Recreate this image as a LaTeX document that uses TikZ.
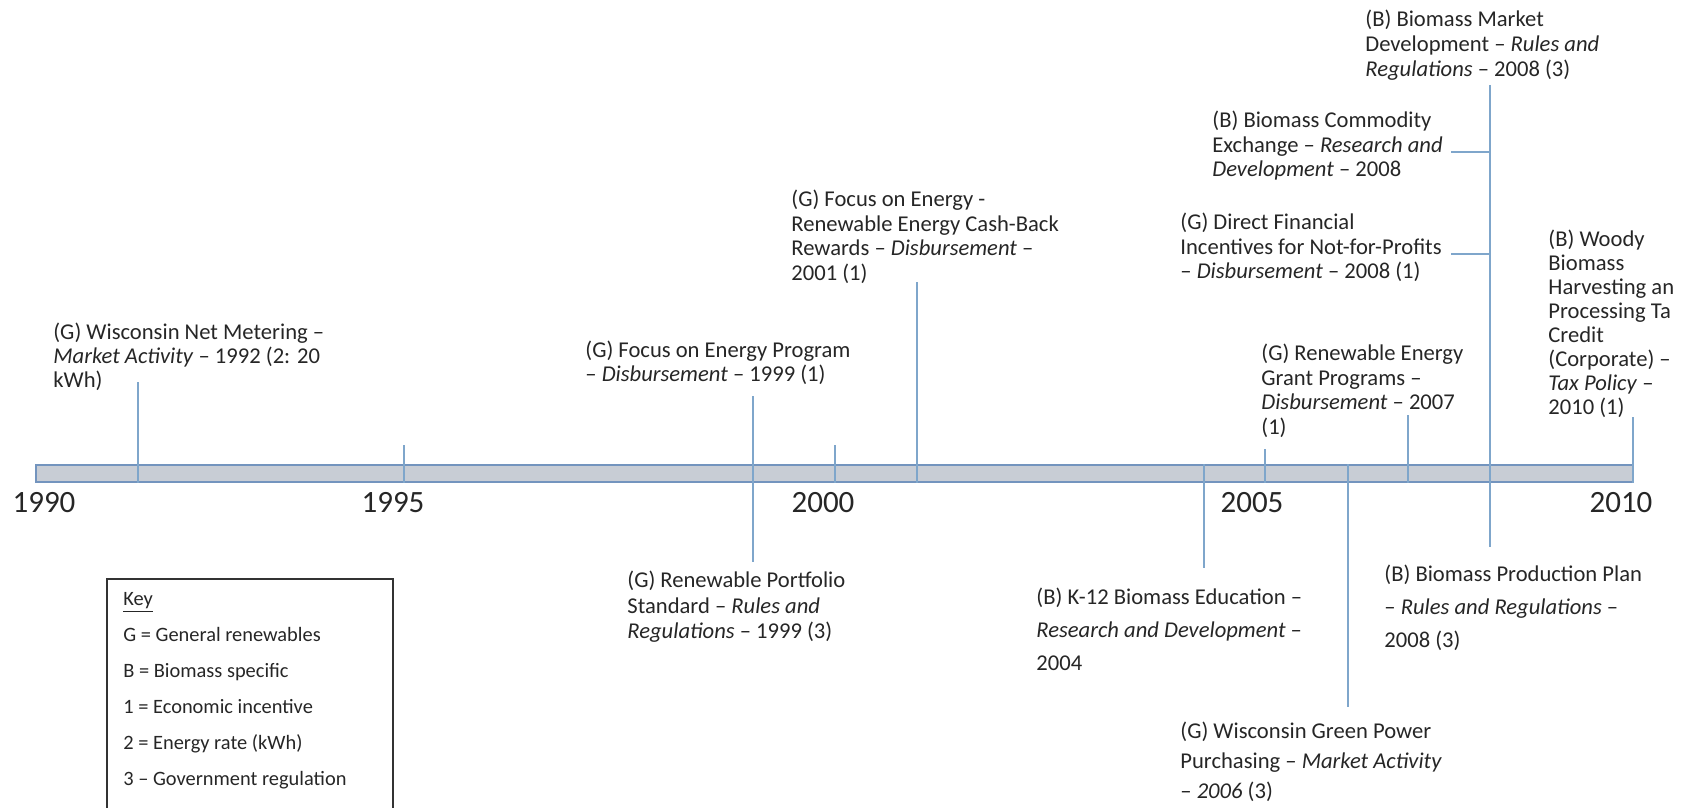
\documentclass[tikz,border=0pt]{standalone}
\usepackage{fontspec}
\setmainfont{Carlito}
\definecolor{tickc}{HTML}{7FA6CB}
\definecolor{barfill}{HTML}{C8CDD5}
\definecolor{barline}{HTML}{7394BE}
\definecolor{txt}{HTML}{262626}
\definecolor{keyline}{HTML}{333333}
\begin{document}
\begin{tikzpicture}[x=0.5pt,y=-0.5pt,
  ann/.style={anchor=north west, inner sep=0pt, align=left, text=txt, font=\fontsize{11.3}{#1}\selectfont},
  ann/.default=12.2,
  yr/.style={inner sep=0pt, text=txt, font=\fontsize{15.5}{18}\selectfont},
  tickline/.style={draw=tickc, line width=1pt},
  barbox/.style={draw=barline, fill=barfill, line width=0.75pt, inner sep=0pt, minimum width=798.5pt, minimum height=8.5pt},
  keyframe/.style={draw=keyline, line width=0.8pt, inner sep=0pt, minimum width=143pt, minimum height=140pt, anchor=north west},
  keytext/.style={anchor=north west, inner sep=0pt, align=left, text=txt, font=\fontsize{10.2}{18}\selectfont}
]
\useasboundingbox (0,0) rectangle (1686,808);
\clip (0,0) rectangle (1686,808);

% timeline bar
\node[barbox] (bar) at (834.5,473.5) {};

% year labels
\node[yr] (y1990) at (44,503) {1990};
\node[yr] (y1995) at (393,503) {1995};
\node[yr] (y2000) at (823,503) {2000};
\node[yr] (y2005) at (1252,503) {2005};
\node[yr] (y2010) at (1621,503) {2010};

% annotations
\node[ann=12] (netm) at (53,323) {(G) Wisconsin Net Metering –\\\textit{Market Activity} – 1992 (2: 20\\kWh)};
\node[ann=12] (focprog) at (585,341) {(G) Focus on Energy Program\\– \textit{Disbursement} – 1999 (1)};
\node[ann=12.2] (cashback) at (791,190) {(G) Focus on Energy -\\Renewable Energy Cash-Back\\Rewards – \textit{Disbursement} –\\2001 (1)};
\node[ann=12.75] (portf) at (627,571) {(G) Renewable Portfolio\\Standard – \textit{Rules and}\\\textit{Regulations} – 1999 (3)};
\node[ann=16.5] (k12) at (1036,588) {(B) K-12 Biomass Education –\\\textit{Research and Development} –\\2004};
\node[ann=15] (green) at (1180,722) {(G) Wisconsin Green Power\\Purchasing – \textit{Market Activity}\\– \textit{2006} (3)};
\node[ann=16.5] (prod) at (1384,565) {(B) Biomass Production Plan\\– \textit{Rules and Regulations} –\\2008 (3)};
\node[ann=12.25] (grant) at (1261,344) {(G) Renewable Energy\\Grant Programs –\\\textit{Disbursement} – 2007\\(1)};
\node[ann=12.25] (direct) at (1180,213) {(G) Direct Financial\\Incentives for Not-for-Profits\\– \textit{Disbursement} – 2008 (1)};
\node[ann=12.25] (commod) at (1212,111) {(B) Biomass Commodity\\Exchange – \textit{Research and}\\\textit{Development} – 2008};
\node[ann=12.5] (mktdev) at (1365,9.5) {(B) Biomass Market\\Development – \textit{Rules and}\\\textit{Regulations} – 2008 (3)};
\node[ann=12] (woody) at (1548,230) {(B) Woody\\Biomass\\Harvesting an\\Processing Ta\\Credit\\(Corporate) –\\\textit{Tax Policy} –\\2010 (1)};

% tick end points
\coordinate (c1992) at (138,382);
\coordinate (c1995) at (404,445);
\coordinate (c1999a) at (753,396);
\coordinate (c1999b) at (753,562);
\coordinate (c2000) at (835,445);
\coordinate (c2001) at (917,282);
\coordinate (c2004) at (1204,568);
\coordinate (c2005) at (1265,449);
\coordinate (c2006) at (1348,707);
\coordinate (c2007) at (1408,415);
\coordinate (c2008a) at (1490,85);
\coordinate (c2008b) at (1490,547);
\coordinate (bcom) at (1451,152);
\coordinate (bdir) at (1451,254);
\coordinate (c2010) at (1633,417);

% connectors
\draw[tickline] (c1992) -- (c1992 |- bar.south);
\draw[tickline] (c1995) -- (c1995 |- bar.south);
\draw[tickline] (c1999a) -- (c1999b);
\draw[tickline] (c2000) -- (c2000 |- bar.south);
\draw[tickline] (c2001) -- (c2001 |- bar.south);
\draw[tickline] (c2004 |- bar.north) -- (c2004);
\draw[tickline] (c2005) -- (c2005 |- bar.south);
\draw[tickline] (c2006 |- bar.north) -- (c2006);
\draw[tickline] (c2007) -- (c2007 |- bar.south);
\draw[tickline] (c2008a) -- (c2008b);
\draw[tickline] (bcom) -- (bcom -| c2008a);
\draw[tickline] (bdir) -- (bdir -| c2008a);
\draw[tickline] (c2010) -- (c2010 |- bar.south);

% key
\node[keyframe] (keybox) at (106,578) {};
\node[keytext] (keyt) at (123,592) {\underline{Key}\\G = General renewables\\B = Biomass specific\\1 = Economic incentive\\2 = Energy rate (kWh)\\3 – Government regulation};
\end{tikzpicture}
\end{document}
